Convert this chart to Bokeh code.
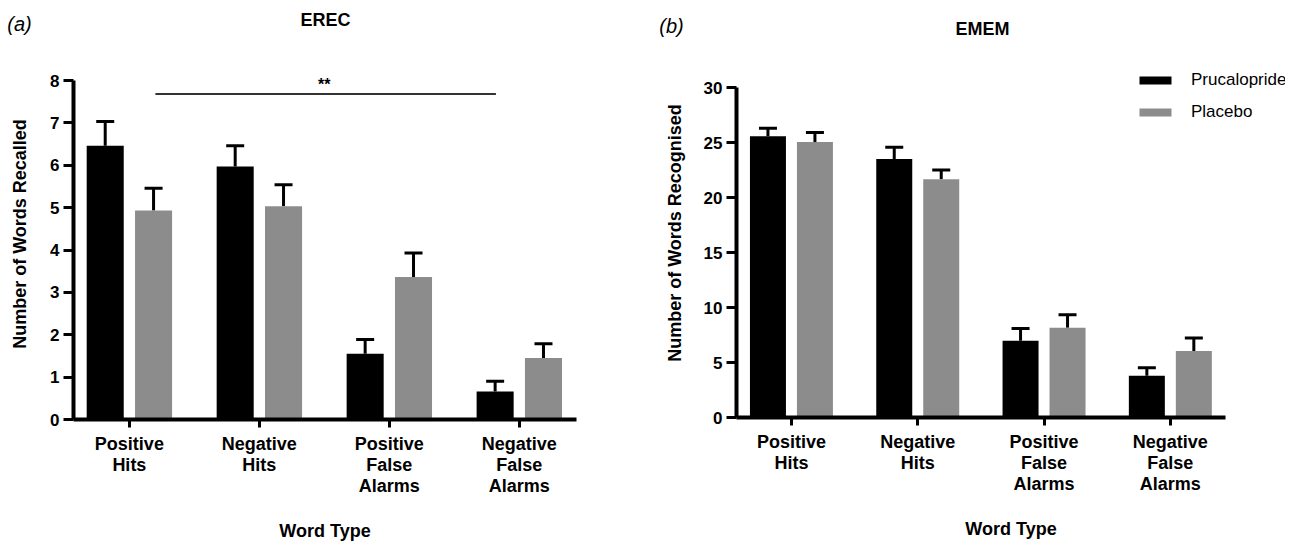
from bokeh.plotting import figure
from bokeh.models import (ColumnDataSource, Whisker, TeeHead, FixedTicker,
                          Legend, LegendItem, Range1d)
from bokeh.transform import dodge
from bokeh.layouts import row, column
from bokeh.embed import file_html
from bokeh.resources import INLINE
from bokeh.core.properties import value

# ---------------- data ----------------
categories = ["Positive\nHits", "Negative\nHits", "Positive\nFalse\nAlarms", "Negative\nFalse\nAlarms"]
series = ["Prucalopride", "Placebo"]
colors = ["#000000", "#8c8c8c"]

erec_prucalopride = [6.46, 5.97, 1.55, 0.66]
erec_prucalopride_sem = [0.57, 0.49, 0.34, 0.24]
erec_placebo = [4.93, 5.03, 3.36, 1.45]
erec_placebo_sem = [0.53, 0.51, 0.57, 0.34]

emem_prucalopride = [25.57, 23.50, 6.98, 3.80]
emem_prucalopride_sem = [0.73, 1.06, 1.12, 0.73]
emem_placebo = [25.05, 21.65, 8.17, 6.05]
emem_placebo_sem = [0.85, 0.85, 1.18, 1.18]

erec_yticks = [0, 1, 2, 3, 4, 5, 6, 7, 8]
emem_yticks = [0, 5, 10, 15, 20, 25, 30]

FONT = "Liberation Sans"
BAR_W = 0.285
OFF = 0.186
TOTAL_W = 1285
HEADER_H = 48


def panel(pru, pru_sem, pla, pla_sem, ymax, ytop, yticks, ylabel, fw, fh,
          bl, br, bb, xr, xbounds, ylab_standoff):
    p = figure(frame_width=fw, frame_height=fh, x_range=Range1d(*xr),
               y_range=Range1d(0, ytop), output_backend="svg",
               toolbar_location=None, min_border_left=bl, min_border_right=br,
               min_border_top=0, min_border_bottom=bb)
    p.title.visible = False
    p.outline_line_color = None
    p.xgrid.visible = False
    p.ygrid.visible = False
    p.background_fill_color = "white"
    p.border_fill_color = "white"

    idx = list(range(len(categories)))
    renderers = []
    for name, vals, sem, col, off in [("Prucalopride", pru, pru_sem, colors[0], -OFF),
                                      ("Placebo", pla, pla_sem, colors[1], OFF)]:
        src = ColumnDataSource(dict(idx=idx, top=vals,
                                    upper=[v + s for v, s in zip(vals, sem)]))
        r = p.vbar(x=dodge("idx", off), top="top", bottom=0, width=BAR_W,
                   source=src, fill_color=col, line_color=None)
        renderers.append((name, r))
        w = Whisker(source=src, base=dodge("idx", off), lower="top", upper="upper",
                    line_width=3, line_color="black", lower_head=None,
                    upper_head=TeeHead(size=18, line_width=3, line_color="black"))
        p.add_layout(w)

    for ax in (p.xaxis[0], p.yaxis[0]):
        ax.axis_line_width = 4
        ax.axis_line_color = "black"
        ax.major_tick_line_width = 3
        ax.major_tick_line_color = "black"
        ax.major_tick_in = 0
        ax.minor_tick_line_color = None
        ax.major_label_text_font = FONT
        ax.major_label_text_font_style = "bold"
        ax.major_label_text_color = "black"
        ax.axis_label_text_font = FONT
        ax.axis_label_text_font_style = "bold"
        ax.axis_label_text_color = "black"
        ax.axis_label_text_font_size = "18px"

    p.yaxis.ticker = FixedTicker(ticks=yticks)
    p.yaxis.bounds = (0, ymax)
    p.yaxis.major_tick_out = 10
    p.yaxis.major_label_standoff = 4
    p.yaxis.major_label_text_font_size = "17px"
    p.yaxis.axis_label = ylabel
    p.yaxis.axis_label_standoff = ylab_standoff

    p.xaxis.ticker = FixedTicker(ticks=idx)
    p.xaxis.bounds = xbounds
    p.xaxis.major_label_overrides = {i: c for i, c in zip(idx, categories)}
    p.xaxis.major_tick_out = 8
    p.xaxis.major_label_standoff = 6
    p.xaxis.major_label_text_font_size = "18px"
    p.xaxis.major_label_text_line_height = 1.05
    p.xaxis.axis_label = "Word Type"
    p.xaxis.axis_label_standoff = 22
    return p, renderers


# ---------------- header with panel letters and titles ----------------
hdr = figure(width=TOTAL_W, height=HEADER_H, x_range=Range1d(0, TOTAL_W),
             y_range=Range1d(HEADER_H, 0), x_axis_type=None, y_axis_type=None,
             output_backend="svg", toolbar_location=None, min_border=0)
hdr.title.visible = False
hdr.outline_line_color = None
hdr.xgrid.visible = False
hdr.ygrid.visible = False
hdr.text(x=[19, 671], y=[23, 25], text=["(a)", "(b)"], text_font=value(FONT),
         text_font_size="20px", text_font_style="italic", text_align="center",
         text_baseline="middle", text_color="black")
hdr.text(x=[325, 982], y=[19, 28], text=["EREC", "EMEM"], text_font=value(FONT),
         text_font_size="18px", text_font_style="bold", text_align="center",
         text_baseline="middle", text_color="black")

# ---------------- panel (a) EREC ----------------
# frame top at header bottom; 8 units = 339 px
pa, ra = panel(erec_prucalopride, erec_prucalopride_sem, erec_placebo, erec_placebo_sem,
               8, 8 + 32 / (339 / 8), erec_yticks, "Number of Words Recalled", 503, 371,
               73, 65, 112, (-0.43, 3.44), (-0.43, 3.44), 17)
pa.line(x=[0.2, 2.82], y=[7.68, 7.68], line_width=2, line_color="#333333")
pa.text(x=[1.5], y=[7.90], text=["**"], text_font=value(FONT), text_font_size="16px",
        text_font_style="bold", text_align="center", text_baseline="alphabetic",
        text_color="black")

# ---------------- panel (b) EMEM ----------------
pb, rb = panel(emem_prucalopride, emem_prucalopride_sem, emem_placebo, emem_placebo_sem,
               30, 30 + 39 / 11.0, emem_yticks, "Number of Words Recognised", 549, 369,
               95, 0, 114, (-0.435, -0.435 + 549 / 126.3), (-0.435, 3.44), 16)

legend = Legend(items=[LegendItem(label=n, renderers=[r]) for n, r in rb],
                location=(399, 295), orientation="vertical",
                glyph_width=40, glyph_height=10, label_height=20, label_standoff=16,
                spacing=12, padding=0, margin=0, border_line_color=None,
                background_fill_alpha=0, label_text_font=FONT,
                label_text_font_size="17px", label_text_color="black")
pb.add_layout(legend, "center")

layout = column(hdr, row(pa, pb))
open("out.html", "w").write(file_html(layout, INLINE))
